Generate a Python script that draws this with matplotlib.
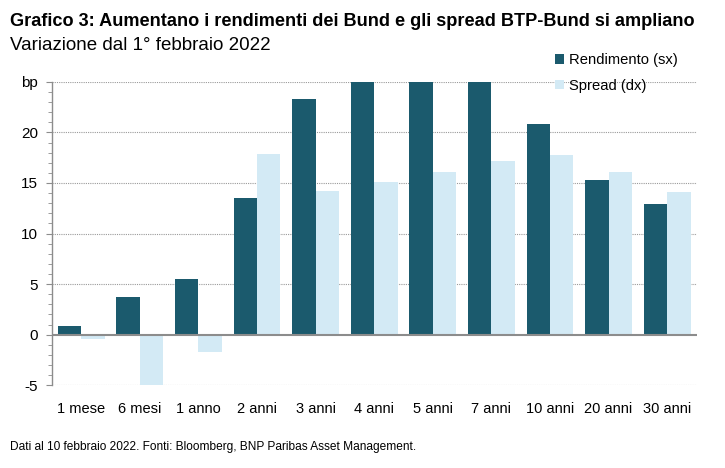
import matplotlib
matplotlib.use("Agg")
import matplotlib.pyplot as plt
import numpy as np
from matplotlib.ticker import MultipleLocator

plt.rcParams['font.family'] = ['Liberation Sans Narrow', 'Liberation Sans', 'DejaVu Sans']

categories = ["1 mese", "6 mesi", "1 anno", "2 anni", "3 anni", "4 anni",
              "5 anni", "7 anni", "10 anni", "20 anni", "30 anni"]
rendimento = [0.9, 3.7, 5.5, 13.5, 23.3, 27.0, 28.0, 28.0, 20.8, 15.3, 12.9]
spread = [-0.4, -5.0, -1.7, 17.9, 14.2, 15.1, 16.1, 17.2, 17.75, 16.1, 14.1]
ytick_vals = [-5, 0, 5, 10, 15, 20, 25]
ytick_labels = ["-5", "0", "5", "10", "15", "20", "bp"]

dark = "#1b5a6d"
light = "#d3eaf5"

fig = plt.figure(figsize=(7.25, 4.68), dpi=100)
ax = fig.add_axes([0.0717, 0.177, 0.889, 0.648])

x = np.arange(len(categories))
w = 0.4
ax.bar(x - w/2, rendimento, width=w, color=dark, label="Rendimento (sx)", zorder=3)
ax.bar(x + w/2, spread, width=w, color=light, label="Spread (dx)", zorder=3)

ax.set_xlim(-0.5, len(categories) - 0.5)
ax.set_ylim(-5, 25)
ax.set_yticks(ytick_vals)
ax.set_yticklabels(ytick_labels)
ax.yaxis.set_minor_locator(MultipleLocator(1))
ax.set_xticks(x)
ax.set_xticklabels(categories)

for s in ["top", "right", "bottom"]:
    ax.spines[s].set_visible(False)
ax.spines["left"].set_color("#8c8c8c")
ax.spines["left"].set_linewidth(1.0)

ax.tick_params(axis='y', which='major', length=4, color="#8c8c8c", labelsize=11, pad=6)
ax.tick_params(axis='y', which='minor', length=3, color="#8c8c8c")
ax.tick_params(axis='x', length=0, labelsize=10.5, pad=12)

for v in [-5, 5, 10, 15, 20, 25]:
    ax.axhline(v, color="#9a9a9a", linestyle=(0, (1, 1)), linewidth=0.8, zorder=1)
ax.axhline(0, color="#8c8c8c", linewidth=1.5, zorder=4)

leg = ax.legend(loc="upper left", bbox_to_anchor=(0.772, 1.114), frameon=False,
                fontsize=10.6, handlelength=0.6, handleheight=0.6, handletextpad=0.3,
                labelspacing=0.8, borderaxespad=0)

fig.text(0.014, 0.955, "Grafico 3: Aumentano i rendimenti dei Bund e gli spread BTP-Bund si ampliano",
         fontsize=13.1, fontweight="bold", ha="left", va="center")
fig.text(0.014, 0.903, "Variazione dal 1° febbraio 2022", fontsize=13.5, ha="left", va="center")
fig.text(0.014, 0.045, "Dati al 10 febbraio 2022. Fonti: Bloomberg, BNP Paribas Asset Management.",
         fontsize=8.6, ha="left", va="center")

fig.savefig("out.png", dpi=100)
